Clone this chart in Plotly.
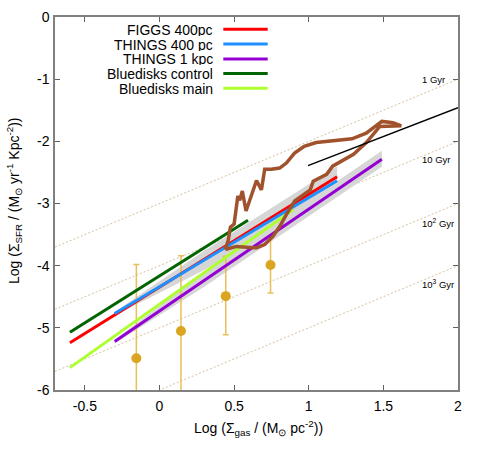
import numpy as np
import plotly.graph_objects as go

FONT = "Liberation Sans, Arial, Helvetica, sans-serif"

# ---------------- data ----------------
x_range = [-0.7, 2.0]
y_range = [-6.0, 0.0]
x_ticks = [-0.5, 0, 0.5, 1, 1.5, 2]
x_ticktext = ["-0.5", "0", "0.5", "1", "1.5", "2"]
y_ticks = [0, -1, -2, -3, -4, -5, -6]
y_ticktext = ["0", "-1", "-2", "-3", "-4", "-5", "-6"]

# constant depletion-time lines (log t in yr)
dep_logt = [9, 10, 11, 12]
dep_x = [-0.7, 2.0]
dep_labels = ["1 Gyr", "10 Gyr", "10<sup>2</sup> Gyr", "10<sup>3</sup> Gyr"]
dep_label_x = [1.745, 1.745, 1.745, 1.745]
dep_label_y = [-1.01, -2.30, -3.31, -4.30]

series_names = ["FIGGS 400pc", "THINGS 400 pc", "THINGS 1 kpc",
                "Bluedisks control", "Bluedisks main"]
series_colors = ["#ff0000", "#1e90ff", "#9400d3", "#006400", "#adff2f"]

figgs_x = [-0.60, 1.19]
figgs_y = [-5.24, -2.57]
things400_x = [-0.30, 1.19]
things400_y = [-4.77, -2.635]
things1k_x = [-0.30, 1.49]
things1k_y = [-5.22, -2.29]
bdc_x = [-0.60, 0.593]
bdc_y = [-5.07, -3.27]
bdm_x = [-0.60, 0.895]
bdm_y = [-5.64, -3.10]

# uncertainty bands
band400_x = [-0.30, 0.30, 1.19]
band400_lo = [-4.80, -4.07, -2.82]
band400_hi = [-4.74, -3.76, -2.40]
band1k_x = [-0.30, 0.30, 1.49]
band1k_lo = [-5.25, -4.34, -2.41]
band1k_hi = [-5.19, -4.10, -2.15]

# brown loop
loop_x = [0.44, 0.46, 0.475, 0.50, 0.525, 0.538, 0.555, 0.58, 0.65, 0.683,
          0.705, 0.75, 0.805, 0.85, 0.905, 0.97, 1.05, 1.12, 1.29, 1.385,
          1.49, 1.565, 1.62, 1.476, 1.386, 1.30, 1.21, 1.16, 1.12, 1.07,
          1.03, 1.01, 0.906, 0.85, 0.805, 0.76, 0.705, 0.65, 0.627, 0.516, 0.44]
loop_y = [-3.74, -3.60, -3.38, -3.33, -2.88, -2.95, -2.80, -3.12, -2.63, -2.78,
          -2.45, -2.45, -2.43, -2.35, -2.19, -2.08, -2.02, -2.00, -1.96, -1.87,
          -1.68, -1.70, -1.75, -1.76, -2.02, -2.21, -2.34, -2.40, -2.53, -2.59,
          -2.64, -2.78, -2.96, -3.18, -3.37, -3.53, -3.66, -3.71, -3.71, -3.69, -3.74]

# black line
black_x = [0.995, 2.0]
black_y = [-2.39, -1.46]

# points with error bars
pt_x = [-0.155, 0.144, 0.444, 0.744]
pt_y = [-5.49, -5.05, -4.49, -3.99]
pt_err_plus = [1.51, 1.21, 0.64, 0.45]
pt_err_minus = [1.51, 1.21, 0.62, 0.45]

# ---------------- figure ----------------
fig = go.Figure()

for lt in dep_logt:
    fig.add_trace(go.Scatter(
        x=dep_x, y=[x + 6 - lt for x in dep_x], mode="lines",
        line=dict(color="#d9bf9f", width=1, dash="2px,2px"),
        showlegend=False, hoverinfo="skip"))

for bx, blo, bhi in [(band400_x, band400_lo, band400_hi),
                     (band1k_x, band1k_lo, band1k_hi)]:
    fig.add_trace(go.Scatter(
        x=bx + bx[::-1], y=bhi + blo[::-1], mode="lines", fill="toself",
        fillcolor="#d6d6d6", line=dict(width=0, color="#d6d6d6"),
        showlegend=False, hoverinfo="skip"))

fig.add_trace(go.Scatter(
    x=pt_x, y=pt_y, mode="markers",
    marker=dict(color="#daa520", size=10),
    error_y=dict(type="data", array=pt_err_plus, arrayminus=pt_err_minus,
                 color="rgba(230,180,60,0.85)", thickness=1.5, width=3),
    showlegend=False))

series = [(figgs_x, figgs_y), (things400_x, things400_y), (things1k_x, things1k_y),
          (bdc_x, bdc_y), (bdm_x, bdm_y)]
for i in range(len(series)):
    sx, sy = series[i]
    fig.add_trace(go.Scatter(
        x=sx, y=sy, mode="lines", name=series_names[i],
        line=dict(color=series_colors[i], width=3), showlegend=False))

fig.add_trace(go.Scatter(
    x=loop_x, y=loop_y, mode="lines",
    line=dict(color="#a0522d", width=3.5), showlegend=False))

fig.add_trace(go.Scatter(
    x=black_x, y=black_y, mode="lines",
    line=dict(color="black", width=1.5), showlegend=False))

# ---------------- layout ----------------
L, R, T, B, W, H = 55, 27, 17, 62, 485, 452
pw, ph = W - L - R, H - T - B

def px2paper_x(px):
    return (px - L) / pw

def px2paper_y(py):
    return (H - B - py) / ph

annotations = []
shapes = []
legend_y_px = [29.3, 44.0, 59.0, 73.5, 88.3]
for name, col, ypx in zip(series_names, series_colors, legend_y_px):
    annotations.append(dict(
        x=px2paper_x(214), y=px2paper_y(ypx), xref="paper", yref="paper",
        text=name, showarrow=False, xanchor="right", yanchor="middle",
        height=13, borderpad=0,
        font=dict(family=FONT, size=14, color="black")))
    shapes.append(dict(
        type="line", xref="paper", yref="paper",
        x0=px2paper_x(223.3), x1=px2paper_x(267.7),
        y0=px2paper_y(ypx), y1=px2paper_y(ypx),
        line=dict(color=col, width=3)))

for txt, lx, ly in zip(dep_labels, dep_label_x, dep_label_y):
    annotations.append(dict(
        x=lx, y=ly, xref="x", yref="y", text=txt, showarrow=False,
        xanchor="left", yanchor="middle",
        font=dict(family=FONT, size=9.5, color="black")))

annotations.append(dict(
    x=px2paper_x(258), y=px2paper_y(428), xref="paper", yref="paper",
    text="Log (Σ<sub>gas</sub> / (M<sub>⊙</sub> pc<sup>-2</sup>))",
    showarrow=False, xanchor="center", yanchor="middle",
    font=dict(family=FONT, size=14, color="black")))
annotations.append(dict(
    x=px2paper_x(14), y=px2paper_y(201), xref="paper", yref="paper",
    text="Log (Σ<sub>SFR</sub> / (M<sub>⊙</sub> yr<sup>-1</sup> Kpc<sup>-2</sup>))",
    showarrow=False, xanchor="center", yanchor="middle", textangle=-90,
    font=dict(family=FONT, size=14, color="black")))

axis_common = dict(
    showgrid=False, zeroline=False, showline=True, linecolor="#808080",
    linewidth=1.5, mirror="ticks", ticks="inside", ticklen=5, tickwidth=1,
    tickcolor="#606060", automargin=False,
    tickfont=dict(family=FONT, size=14, color="black"))

fig.update_layout(
    width=W, height=H, autosize=False,
    margin=dict(l=L, r=R, t=T, b=B, autoexpand=False),
    paper_bgcolor="white", plot_bgcolor="white",
    showlegend=False,
    xaxis=dict(range=x_range, tickvals=x_ticks, ticktext=x_ticktext,
               ticklabelstandoff=2, **axis_common),
    yaxis=dict(range=y_range, tickvals=y_ticks, ticktext=y_ticktext,
               ticklabelstandoff=1, **axis_common),
    annotations=annotations, shapes=shapes)

fig.write_html("out.html", config={"displayModeBar": False},
               post_script="document.body.style.margin='0';"
                           "document.body.style.padding='0';")
